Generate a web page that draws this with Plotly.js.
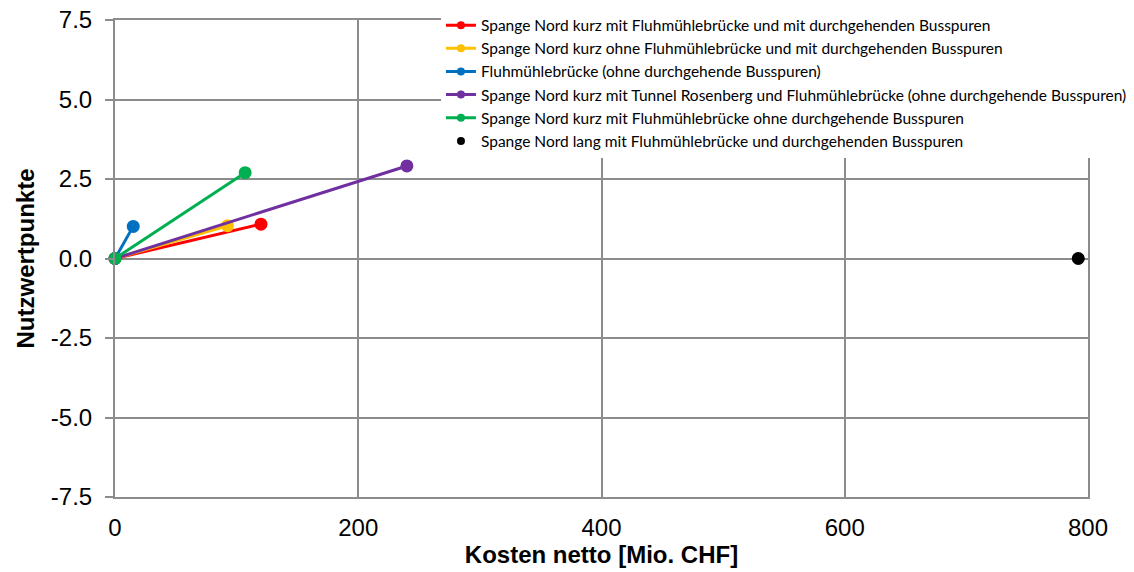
<!DOCTYPE html>
<html>
<head>
<meta charset="utf-8">
<script src="https://cdn.plot.ly/plotly-3.0.1.min.js"></script>
<style>html,body{margin:0;padding:0;background:#fff;}#chart{width:1134px;height:572px;}</style>
</head>
<body>
<div id="chart"></div>
<script>
const seriesNames = [
  "Spange Nord kurz mit Fluhmühlebrücke und mit durchgehenden Busspuren",
  "Spange Nord kurz ohne Fluhmühlebrücke und mit durchgehenden Busspuren",
  "Fluhmühlebrücke (ohne durchgehende Busspuren)",
  "Spange Nord kurz mit Tunnel Rosenberg und Fluhmühlebrücke (ohne durchgehende Busspuren)",
  "Spange Nord kurz mit Fluhmühlebrücke ohne durchgehende Busspuren",
  "Spange Nord lang mit Fluhmühlebrücke und durchgehenden Busspuren"
];
const seriesColors = ["#FF0000", "#FFC000", "#0070C0", "#7030A0", "#00B050", "#000000"];
const costX = [
  [0, 120],
  [0, 92.5],
  [0, 15],
  [0, 240],
  [0, 107],
  [792]
];
const pointsY = [
  [0, 1.08],
  [0, 1.03],
  [0, 1.01],
  [0, 2.91],
  [0, 2.70],
  [0]
];
const xTicks = [0, 200, 400, 600, 800];
const yTicks = [-7.5, -5.0, -2.5, 0.0, 2.5, 5.0, 7.5];
const yTickText = ["-7.5", "-5.0", "-2.5", "0.0", "2.5", "5.0", "7.5"];

const dataTraces = seriesNames.map((name, i) => ({
  type: "scatter",
  mode: costX[i].length > 1 ? "lines+markers" : "markers",
  name: name,
  x: costX[i],
  y: pointsY[i],
  line: {color: seriesColors[i], width: 3},
  marker: {color: seriesColors[i], size: 13},
  cliponaxis: false,
  showlegend: false
}));
// legend entries with the smaller legend symbols of the original
const legendTraces = seriesNames.map((name, i) => ({
  type: "scatter",
  mode: costX[i].length > 1 ? "lines+markers" : "markers",
  name: name,
  x: [null],
  y: [null],
  line: {color: seriesColors[i], width: 3},
  marker: {color: seriesColors[i], size: 8},
  legendgroup: "g" + i,
  showlegend: true
}));

const gridCol = "#8c8c8c";
const layout = {
  width: 1134, height: 572,
  margin: {l: 115, r: 46, t: 20, b: 75, autoexpand: false},
  paper_bgcolor: "#fff", plot_bgcolor: "#fff",
  showlegend: true,
  legend: {
    x: 0.335, y: 1.024, xanchor: "left", yanchor: "top",
    bgcolor: "#fff",
    font: {family: "Lato, 'Noto Sans', sans-serif", size: 15.5, color: "#000"},
    traceorder: "grouped",
    tracegroupgap: 0,
    itemwidth: 30
  },
  xaxis: {
    range: [0, 800],
    tickvals: xTicks,
    ticktext: xTicks.map(String),
    showgrid: true, gridcolor: gridCol, gridwidth: 2,
    zeroline: false,
    showline: true, linecolor: gridCol, linewidth: 2, mirror: true,
    ticks: "", ticklen: 0,
    ticklabelstandoff: 8,
    tickfont: {family: "Liberation Sans, Arial, sans-serif", size: 24, color: "#000"},
    title: {text: "Kosten netto [Mio. CHF]", font: {family: "Liberation Sans, Arial, sans-serif", size: 24, color: "#000", weight: "bold"}, standoff: 0}
  },
  yaxis: {
    range: [-7.5, 7.5],
    tickvals: yTicks,
    ticktext: yTickText,
    showgrid: true, gridcolor: gridCol, gridwidth: 2,
    zeroline: false,
    showline: true, linecolor: gridCol, linewidth: 2, mirror: true,
    ticks: "outside", ticklen: 8, tickcolor: gridCol, tickwidth: 2,
    ticklabelstandoff: 8,
    tickfont: {family: "Liberation Sans, Arial, sans-serif", size: 24, color: "#000"},
    title: {text: "Nutzwertpunkte", font: {family: "Liberation Sans, Arial, sans-serif", size: 24, color: "#000", weight: "bold"}, standoff: 9}
  }
};

Plotly.newPlot("chart", dataTraces.concat(legendTraces), layout, {displayModeBar: false, staticPlot: true});
</script>
</body>
</html>
